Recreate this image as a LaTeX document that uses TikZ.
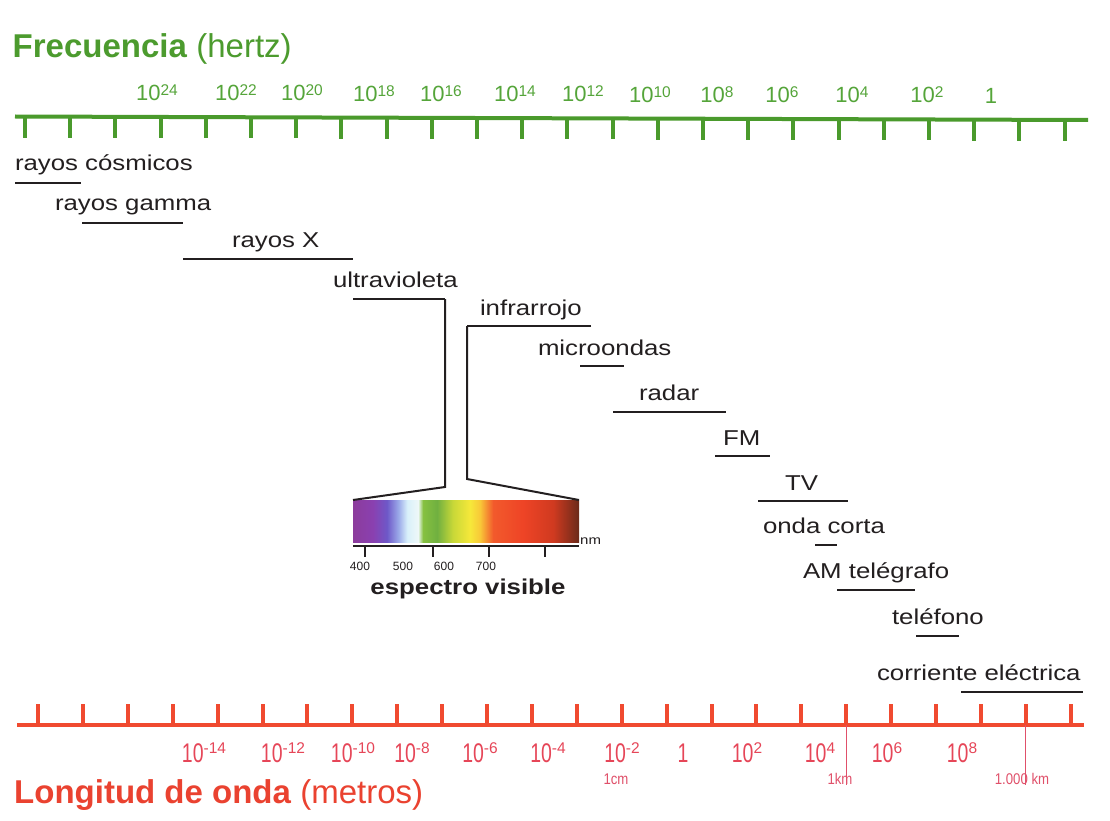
\documentclass[tikz,border=0pt]{standalone}
\usepackage{fontspec}
\setmainfont{Liberation Sans}
\newfontfamily\widefont{Liberation Sans}[FakeStretch=1.2]
\newfontfamily\narrowfont{Liberation Sans}[FakeStretch=0.72]
\newfontfamily\midfont{Liberation Sans}[FakeStretch=0.85]
\definecolor{axgreen}{HTML}{4A9A2C}
\definecolor{txgreen}{HTML}{55A53A}
\definecolor{ttgreen}{HTML}{4C9B2E}
\definecolor{axred}{HTML}{F04A30}
\definecolor{txred}{HTML}{E64658}
\definecolor{ttred}{HTML}{EA4230}
\definecolor{thinred}{HTML}{E0506A}
\definecolor{ink}{HTML}{231F20}
\definecolor{s0}{HTML}{8C3C9C}
\definecolor{s1}{HTML}{8A40B0}
\definecolor{s2}{HTML}{6E58C8}
\definecolor{s3}{HTML}{9AA8E8}
\definecolor{s4}{HTML}{D8F0FA}
\definecolor{s5}{HTML}{EEF8F8}
\definecolor{s6}{HTML}{86C040}
\definecolor{s7}{HTML}{70B040}
\definecolor{s8}{HTML}{C8D838}
\definecolor{s9}{HTML}{F6E83A}
\definecolor{s10}{HTML}{F8C838}
\definecolor{s11}{HTML}{F25A2C}
\definecolor{s12}{HTML}{EE4426}
\definecolor{s13}{HTML}{D03A20}
\definecolor{s14}{HTML}{6A2A1A}
\pgfdeclarehorizontalshading{visible}{100bp}{color(0bp)=(s0); color(25bp)=(s0); color(29.4bp)=(s1); color(32.5bp)=(s2); color(35bp)=(s3); color(37bp)=(s4); color(39.4bp)=(s5); color(40.5bp)=(s6); color(43.6bp)=(s7); color(47.1bp)=(s8); color(50.9bp)=(s9); color(53.1bp)=(s10); color(56bp)=(s11); color(62.6bp)=(s12); color(69.3bp)=(s13); color(75bp)=(s14); color(100bp)=(s14)}
\newcommand{\tsup}[1]{\raisebox{5pt}{\fontsize{15.5}{16}\selectfont #1}}
\newcommand{\bsup}[1]{\raisebox{8.6pt}{\rmfamily\fontsize{15.5}{16}\selectfont #1}}
\begin{document}
\begin{tikzpicture}[x=1pt,y=-1pt,
  lab/.style={anchor=base west,inner sep=0pt,outer sep=0pt,text=ink,font=\widefont\fontsize{21.5}{24}\selectfont},
  bar/.style={draw=ink,line width=2.3pt},
  conn/.style={draw=ink,line width=2pt},
  faxis/.style={draw=axgreen,line width=4pt},
  ftick/.style={draw=axgreen,line width=4pt},
  waxis/.style={draw=axred,line width=4pt},
  wtick/.style={draw=axred,line width=4pt},
  toplab/.style={anchor=base,inner sep=0pt,text=txgreen,font=\fontsize{22}{24}\selectfont},
  botlab/.style={anchor=base,inner sep=0pt,text=txred,font=\narrowfont\fontsize{27}{30}\selectfont},
  smalllab/.style={anchor=base,inner sep=0pt,text=thinred,font=\midfont\fontsize{15.5}{17}\selectfont},
  thinline/.style={draw=thinred,line width=0.9pt},
  specbox/.style={minimum width=226pt,minimum height=42pt,inner sep=0pt,outer sep=0pt,shading=visible},
  nmlab/.style={anchor=base,inner sep=0pt,text=ink,font=\fontsize{12}{14}\selectfont},
  sptick/.style={draw=ink,line width=1.3pt}
]
\useasboundingbox[fill=white] (0,0) rectangle (1110,821);

% titles
\node[anchor=base west,inner sep=0pt,text=ttgreen,font=\fontsize{33}{36}\selectfont] (ftitle) at (12.5,58) {\textbf{Frecuencia} (hertz)};
\node[anchor=base west,inner sep=0pt,text=ttred,font=\fontsize{33}{36}\selectfont] (wtitle) at (14,803) {\textbf{Longitud de onda} (metros)};

% frequency axis
\coordinate (fa) at (15,116.5);
\coordinate (fb) at (1088,120);
\draw[faxis] (fa) -- (fb);
\foreach \k in {0,...,23}{
  \pgfmathsetmacro{\xx}{25+45.2*\k}
  \pgfmathsetmacro{\yy}{116.5+0.00326*(\xx-15)}
  \draw[ftick] (\xx,\yy) -- ++(0,21);
}
\node[toplab] (f24) at (157,100.5) {10\tsup{24}};
\node[toplab] (f22) at (236,100.8) {10\tsup{22}};
\node[toplab] (f20) at (302,101.0) {10\tsup{20}};
\node[toplab] (f18) at (374,101.2) {10\tsup{18}};
\node[toplab] (f16) at (441,101.4) {10\tsup{16}};
\node[toplab] (f14) at (515,101.7) {10\tsup{14}};
\node[toplab] (f12) at (583,101.9) {10\tsup{12}};
\node[toplab] (f10) at (650,102.1) {10\tsup{10}};
\node[toplab] (f8) at (717,102.3) {10\tsup{8}};
\node[toplab] (f6) at (782,102.5) {10\tsup{6}};
\node[toplab] (f4) at (852,102.7) {10\tsup{4}};
\node[toplab] (f2) at (927,103.0) {10\tsup{2}};
\node[toplab] (f0) at (991,103.2) {1};

% wavelength axis
\coordinate (wa) at (17,724.5);
\coordinate (wb) at (1084,724.5);
\draw[waxis] (wa) -- (wb);
\foreach \k in {0,...,23}{
  \pgfmathsetmacro{\xx}{38+44.9*\k}
  \draw[wtick] (\xx,724.5) -- ++(0,-21);
}
\node[botlab] (w14) at (204,762) {10\bsup{-14}};
\node[botlab] (w12) at (283,762) {10\bsup{-12}};
\node[botlab] (w10) at (353,762) {10\bsup{-10}};
\node[botlab] (w8) at (412,762) {10\bsup{-8}};
\node[botlab] (w6) at (480,762) {10\bsup{-6}};
\node[botlab] (w4) at (548,762) {10\bsup{-4}};
\node[botlab] (w2) at (622,762) {10\bsup{-2}};
\node[botlab] (w0) at (683,762) {1};
\node[botlab] (wp2) at (747,762) {10\bsup{2}};
\node[botlab] (wp4) at (820,762) {10\bsup{4}};
\node[botlab] (wp6) at (887,762) {10\bsup{6}};
\node[botlab] (wp8) at (962,762) {10\bsup{8}};
\coordinate (km1a) at (846.2,724.5);
\coordinate (km1b) at (846.2,785);
\coordinate (km2a) at (1025.8,724.5);
\coordinate (km2b) at (1025.8,785);
\draw[thinline] (km1a) -- (km1b);
\draw[thinline] (km2a) -- (km2b);
\node[smalllab] (cm) at (616,784) {1cm};
\node[smalllab] (km) at (840,784) {1km};
\node[smalllab] (kkm) at (1022,784) {1.000 km};

% bands
\node[lab] (cos) at (15,171) {rayos cósmicos};
\draw[bar] (15,183) coordinate (cos1) -- (81,183) coordinate (cos2);
\node[lab] (gam) at (55,211) {rayos gamma};
\draw[bar] (82,223) coordinate (gam1) -- (183,223) coordinate (gam2);
\node[lab] (rx) at (232,247.5) {rayos X};
\draw[bar] (183,259) coordinate (rx1) -- (353,259) coordinate (rx2);
\node[lab] (uv) at (333,287.5) {ultravioleta};
\node[lab] (ir) at (480,315) {infrarrojo};
\node[lab] (mw) at (538,355) {microondas};
\draw[bar] (580,366) coordinate (mw1) -- (624,366) coordinate (mw2);
\node[lab] (rad) at (639,400) {radar};
\draw[bar] (613,412) coordinate (rad1) -- (726,412) coordinate (rad2);
\node[lab] (fm) at (723,445) {FM};
\draw[bar] (715,456) coordinate (fm1) -- (770,456) coordinate (fm2);
\node[lab] (tv) at (785,490) {TV};
\draw[bar] (758,501) coordinate (tv1) -- (848,501) coordinate (tv2);
\node[lab] (oc) at (763,533) {onda corta};
\draw[bar] (815,545) coordinate (oc1) -- (837,545) coordinate (oc2);
\node[lab] (am) at (803,578) {AM telégrafo};
\draw[bar] (837,590) coordinate (am1) -- (915,590) coordinate (am2);
\node[lab] (tel) at (892,624) {teléfono};
\draw[bar] (916,636) coordinate (tel1) -- (959,636) coordinate (tel2);
\node[lab] (ce) at (877,680) {corriente eléctrica};
\draw[bar] (961,692) coordinate (ce1) -- (1083,692) coordinate (ce2);

% visible spectrum
\node[specbox] (spec) at (466,521) {};
\coordinate (uv1) at (353,299);
\coordinate (uv2) at (445,299);
\coordinate (uv3) at (445,487);
\draw[bar] (uv1) -- (uv2);
\draw[conn] (uv2) -- (uv3) -- (spec.north west);
\coordinate (ir1) at (591,326);
\coordinate (ir2) at (467,326);
\coordinate (ir3) at (467,479);
\draw[bar] (ir1) -- (ir2);
\draw[conn] (ir2) -- (ir3) -- (spec.north east);
\coordinate (sa) at (353,546);
\coordinate (sb) at (579,546);
\draw[sptick] (sa) -- (sb);
\foreach \xx in {365,433,489,545}{\draw[sptick] (\xx,546) -- (\xx,557);}
\node[nmlab] (n400) at (360,570) {400};
\node[nmlab] (n500) at (403,570) {500};
\node[nmlab] (n600) at (444,570) {600};
\node[nmlab] (n700) at (486,570) {700};
\node[anchor=base west,inner sep=0pt,text=ink,font=\widefont\fontsize{12.5}{14}\selectfont] (nm) at (580,544) {nm};
\node[anchor=base,inner sep=0pt,text=ink,font=\widefont\bfseries\fontsize{21.5}{24}\selectfont] (vis) at (468,594) {espectro visible};
\end{tikzpicture}
\end{document}
